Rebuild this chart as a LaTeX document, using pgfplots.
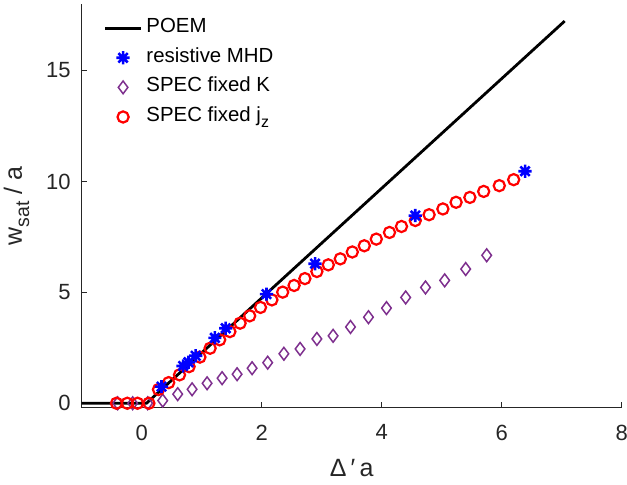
\documentclass[border=0pt]{standalone}
\usepackage{pgfplots}
\pgfplotsset{compat=1.18}
\usepackage{fontspec}
\setmainfont{Liberation Sans}
\definecolor{axgray}{rgb}{0.15,0.15,0.15}
\definecolor{mpurple}{rgb}{0.494,0.184,0.556}
% MATLAB-like subscript: smaller and dropped further
\newcommand{\msub}[1]{\raisebox{-0.55ex}{\scalebox{0.78}{#1}}}
% MATLAB-style eight-armed asterisk
\pgfdeclareplotmark{mstar}{%
  \pgfpathmoveto{\pgfqpoint{\pgfplotmarksize}{0pt}}%
  \pgfpathlineto{\pgfqpoint{-\pgfplotmarksize}{0pt}}%
  \pgfpathmoveto{\pgfqpoint{0pt}{\pgfplotmarksize}}%
  \pgfpathlineto{\pgfqpoint{0pt}{-\pgfplotmarksize}}%
  \pgfpathmoveto{\pgfqpoint{0.7071\pgfplotmarksize}{0.7071\pgfplotmarksize}}%
  \pgfpathlineto{\pgfqpoint{-0.7071\pgfplotmarksize}{-0.7071\pgfplotmarksize}}%
  \pgfpathmoveto{\pgfqpoint{-0.7071\pgfplotmarksize}{0.7071\pgfplotmarksize}}%
  \pgfpathlineto{\pgfqpoint{0.7071\pgfplotmarksize}{-0.7071\pgfplotmarksize}}%
  \pgfusepathqstroke}

\begin{document}
\begin{tikzpicture}
\useasboundingbox (-40.85pt,-38.65pt) rectangle (272.65pt,203.85pt);
\begin{axis}[
  at={(0pt,0pt)}, anchor=south west,
  scale only axis, width=270pt, height=201.85pt,
  xmin=-1, xmax=8, ymin=-0.2, ymax=18,
  xtick={0,2,4,6,8}, ytick={0,5,10,15},
  axis lines*=left, axis line style={-, axgray, line width=0.5pt},
  tick align=inside, major tick length=2.8pt,
  tick style={axgray, line width=0.5pt},
  /pgf/number format/assume math mode=true,
  ticklabel style={font=\fontsize{11}{13}\selectfont, text=axgray},
  xticklabel style={yshift=-5pt},
  yticklabel style={xshift=-2pt},
  xlabel={Δ\,′\,a}, ylabel={w\msub{sat} / a},
  label style={font=\fontsize{12.5}{14}\selectfont, text=axgray},
  xlabel style={at={(axis description cs:0.5,-0.1714)}, anchor=base},
  ylabel style={at={(axis description cs:-0.1106,0.5)}, anchor=base},
  legend style={at={(0.04,0.9646)}, anchor=north west, draw=none, fill=none,
    inner sep=0pt, font=\fontsize{10.2}{12}\selectfont, row sep=5.3pt,
    nodes={inner ysep=0pt, text height=7pt, text depth=2.5pt}},
  legend cell align=left,
  legend image code/.code={\draw[mark repeat=2,mark phase=2,#1] plot coordinates {(0pt,0pt)(9pt,0pt)(18pt,0pt)};},
  clip=false,
]
\addplot[black, line width=1.4pt] coordinates {(-1,0)(0.08,0)(7.05,17.23)};
\addlegendentry{POEM}
\addlegendimage{only marks, mark=mstar, blue, mark size=3.3pt, line width=1.3pt}
\addlegendentry{resistive MHD}
\addplot[only marks, mark=diamond, mpurple, mark size=3.2pt, line width=0.75pt] coordinates {
(-0.40,0)(-0.15,0)(0.10,0)(0.35,0.12)(0.60,0.41)(0.84,0.63)(1.09,0.90)(1.34,1.13)
(1.59,1.31)(1.84,1.58)(2.10,1.83)(2.37,2.23)(2.64,2.45)(2.92,2.90)(3.19,3.04)
(3.48,3.44)(3.78,3.88)(4.08,4.29)(4.40,4.77)(4.73,5.22)(5.05,5.54)(5.40,6.05)(5.75,6.67)};
\addlegendentry{SPEC fixed K}
\addplot[only marks, mark=o, red, mark size=2.8pt, line width=1.1pt] coordinates {
(-0.42,0)(-0.24,0)(-0.07,0)(0.12,0)(0.28,0.62)(0.45,0.93)(0.63,1.28)(0.79,1.65)
(0.97,2.08)(1.14,2.48)(1.30,2.86)(1.47,3.23)(1.64,3.61)(1.80,3.94)(1.98,4.32)
(2.17,4.66)(2.35,5.01)(2.54,5.31)(2.72,5.62)(2.92,5.94)(3.11,6.24)(3.31,6.51)
(3.51,6.82)(3.71,7.10)(3.91,7.40)(4.13,7.70)(4.33,7.97)(4.56,8.24)(4.79,8.50)
(5.02,8.76)(5.24,9.06)(5.47,9.28)(5.70,9.55)(5.96,9.81)(6.20,10.08)};
\addlegendentry{SPEC fixed j\msub{z}}
\addplot[only marks, mark=mstar, blue, mark size=3.3pt, line width=1.3pt, forget plot] coordinates {
(0.33,0.75)(0.69,1.68)(0.78,1.85)(0.90,2.14)(1.22,2.95)(1.40,3.38)(2.08,4.92)
(2.89,6.29)(4.56,8.46)(6.39,10.46)};
\end{axis}
\end{tikzpicture}
\end{document}
